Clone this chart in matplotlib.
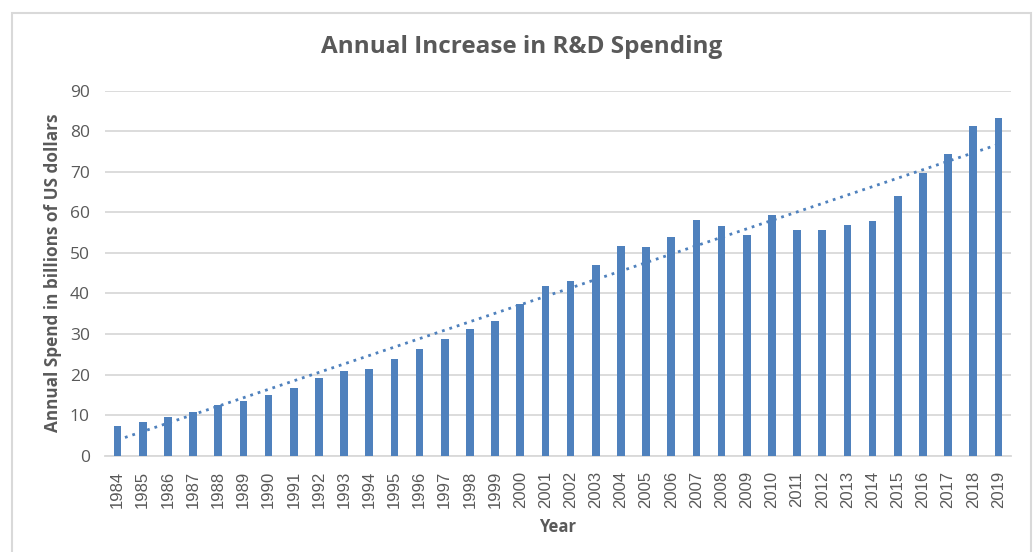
import numpy as np
import matplotlib.pyplot as plt
from matplotlib.patches import Rectangle

years = list(range(1984, 2020))
spend = [7.4, 8.2, 9.5, 10.7, 12.5, 13.5, 15.0, 16.6, 19.1, 20.8,
         21.5, 23.8, 26.2, 28.7, 31.2, 33.3, 37.4, 41.9, 43.0, 46.9,
         51.8, 51.5, 54.0, 58.1, 56.6, 54.4, 59.4, 55.7, 55.7, 56.9,
         57.9, 64.0, 69.6, 74.4, 81.2, 83.2]
y_ticks = [0, 10, 20, 30, 40, 50, 60, 70, 80, 90]

BLUE = "#4F81BD"
GRAY_TEXT = "#595959"
GRID = "#D9D9D9"


def main() -> None:
    fig = plt.figure(figsize=(10.35, 5.52), dpi=100)
    ax = fig.add_axes([105 / 1035, 1 - 455.7 / 552, 906 / 1035, 365 / 552])

    x = np.arange(len(years))
    ax.bar(x, spend, width=0.3, color=BLUE, zorder=3)

    # linear trendline, like the Excel one
    slope, intercept = np.polyfit(x, spend, 1)
    ax.plot(x, slope * x + intercept, color=BLUE, linestyle=(0, (1, 1.8)),
            linewidth=2.0, zorder=4)

    ax.set_xlim(-0.5, len(years) - 0.5)
    ax.set_ylim(0, 90)
    ax.set_yticks(y_ticks)
    ax.yaxis.grid(True, color=GRID, linewidth=1.3, zorder=0)
    ax.set_axisbelow(True)
    for side in ["top", "right", "left"]:
        ax.spines[side].set_visible(False)
    ax.spines["bottom"].set_color(GRID)
    ax.spines["bottom"].set_linewidth(1.3)

    ax.set_xticks(x)
    ax.set_xticklabels([str(y) for y in years], rotation=90,
                       family="Liberation Sans", fontsize=12, color=GRAY_TEXT)
    ax.tick_params(axis="both", length=0)
    ax.tick_params(axis="x", pad=11)
    ax.tick_params(axis="y", pad=11)
    for lbl in ax.get_yticklabels():
        lbl.set_family("Open Sans")
        lbl.set_fontsize(12.5)
        lbl.set_color(GRAY_TEXT)

    ax.set_xlabel("Year", family="Open Sans", fontsize=12, fontweight="bold",
                  color=GRAY_TEXT)
    ax.xaxis.set_label_coords(0.5, -0.17)
    ax.set_ylabel("Annual Spend in billions of US dollars", family="Open Sans",
                  fontsize=12.3, fontweight="bold", color=GRAY_TEXT)
    ax.yaxis.set_label_coords(-0.048, 0.5)

    fig.text(522 / 1035, 1 - 47 / 552, "Annual Increase in R&D Spending",
             ha="center", va="center", family="Open Sans", fontsize=17.5,
             fontweight="bold", color=GRAY_TEXT)

    # chart area border
    fig.patches.append(Rectangle((12 / 1035, -0.05), 1019 / 1035,
                                 1 - 13 / 552 + 0.05, transform=fig.transFigure,
                                 fill=False, edgecolor=GRID, linewidth=1.5))

    fig.savefig("out.png", dpi=100)
    plt.close(fig)


if __name__ == "__main__":
    main()
